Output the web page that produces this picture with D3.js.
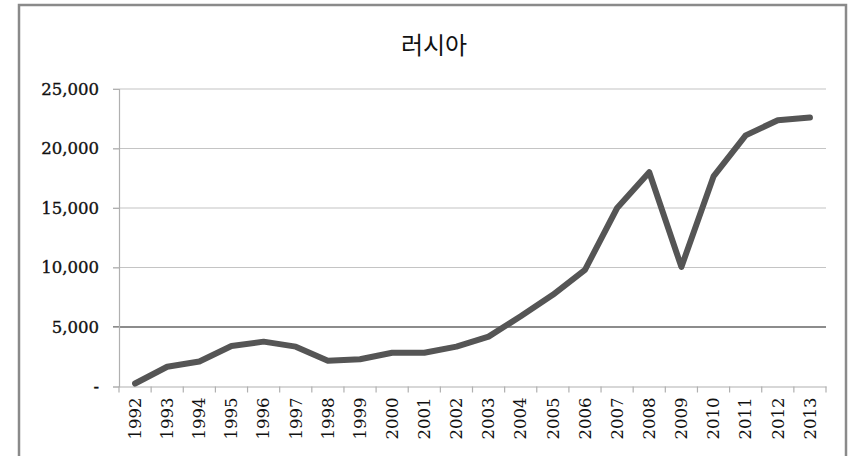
<!DOCTYPE html>
<html>
<head>
<meta charset="utf-8">
<script src="https://cdn.jsdelivr.net/npm/d3@7"></script>
<style>
  body { margin: 0; background: #fff; }
  svg { display: block; }
</style>
</head>
<body>
<script>
// data
var years = ["1992","1993","1994","1995","1996","1997","1998","1999","2000","2001","2002",
             "2003","2004","2005","2006","2007","2008","2009","2010","2011","2012","2013"];
var values = [250, 1660, 2100, 3400, 3770, 3350, 2170, 2290, 2840, 2840, 3350,
              4190, 5900, 7700, 9800, 15000, 18000, 10050, 17650, 21100, 22380, 22600];
var yTicks = [0, 5000, 10000, 15000, 20000, 25000];
var title = "러시아";

var W = 855, H = 456;
var margin = {top: 89, left: 119, right: 29, bottom: 69.5};
var width = W - margin.left - margin.right,
    height = H - margin.top - margin.bottom;

var svg = d3.select("body").append("svg")
    .attr("width", W)
    .attr("height", H);

// outer frame
svg.append("rect")
    .attr("x", 19).attr("y", 5)
    .attr("width", 827).attr("height", 470)
    .attr("fill", "none")
    .attr("stroke", "#8a8a8a")
    .attr("stroke-width", 2.5);

svg.append("text")
    .attr("x", 434).attr("y", 54)
    .attr("text-anchor", "middle")
    .style("font-family", "'Noto Sans CJK KR', sans-serif")
    .style("font-size", "24px")
    .style("fill", "#111")
    .text(title);

var g = svg.append("g")
    .attr("transform", "translate(" + margin.left + "," + margin.top + ")");

var x = d3.scaleBand().domain(years).range([0, width]);
var y = d3.scaleLinear().domain([0, 25000]).range([height, 0]);

// gridlines + y ticks
g.selectAll(".grid")
    .data(yTicks.filter(function(d) { return d > 0; }))
  .enter().append("line")
    .attr("x1", -6).attr("x2", width)
    .attr("y1", function(d) { return y(d); })
    .attr("y2", function(d) { return y(d); })
    .attr("stroke", function(d) { return d === 5000 ? "#8c8c8c" : "#c4c4c4"; })
    .attr("stroke-width", function(d) { return d === 5000 ? 2 : 1.2; });

// y axis
var yAxis = g.append("g")
    .call(d3.axisLeft(y).tickValues(yTicks).tickSize(6).tickPadding(14)
      .tickFormat(function(d) { return d === 0 ? "-" : d3.format(",")(d); }));
yAxis.select(".domain").attr("stroke", "#b0b0b0").attr("stroke-width", 1.2);
yAxis.selectAll(".tick line").attr("stroke", "#b0b0b0");
yAxis.selectAll("text")
    .style("font-family", "'DejaVu Serif', serif")
    .style("font-size", "16.5px")
    .style("fill", "#111")
    .style("stroke", "#111")
    .style("stroke-width", "0.35px");

// x axis
var xAxis = g.append("g")
    .attr("transform", "translate(0," + height + ")")
    .call(d3.axisBottom(x).tickSize(0).tickPadding(0));
xAxis.select(".domain").attr("stroke", "#b0b0b0").attr("stroke-width", 1.2);
xAxis.selectAll("text")
    .attr("transform", "rotate(-90)")
    .attr("x", -11)
    .attr("y", 0)
    .attr("dy", "0.35em")
    .attr("text-anchor", "end")
    .style("font-family", "'DejaVu Serif', serif")
    .style("font-size", "16.5px")
    .style("fill", "#111");

// tick marks at band edges
var edges = years.map(function(d) { return x(d); }).concat([width]);
g.selectAll(".xtick")
    .data(edges)
  .enter().append("line")
    .attr("x1", function(d) { return d; })
    .attr("x2", function(d) { return d; })
    .attr("y1", height).attr("y2", height + 6)
    .attr("stroke", "#b0b0b0")
    .attr("stroke-width", 1.2);

// the line
var line = d3.line()
    .x(function(d, i) { return x(years[i]) + x.bandwidth() / 2; })
    .y(function(d) { return y(d); });

g.append("path")
    .datum(values)
    .attr("fill", "none")
    .attr("stroke", "#555")
    .attr("stroke-width", 6)
    .attr("stroke-linejoin", "round")
    .attr("stroke-linecap", "round")
    .attr("d", line);
</script>
</body>
</html>
